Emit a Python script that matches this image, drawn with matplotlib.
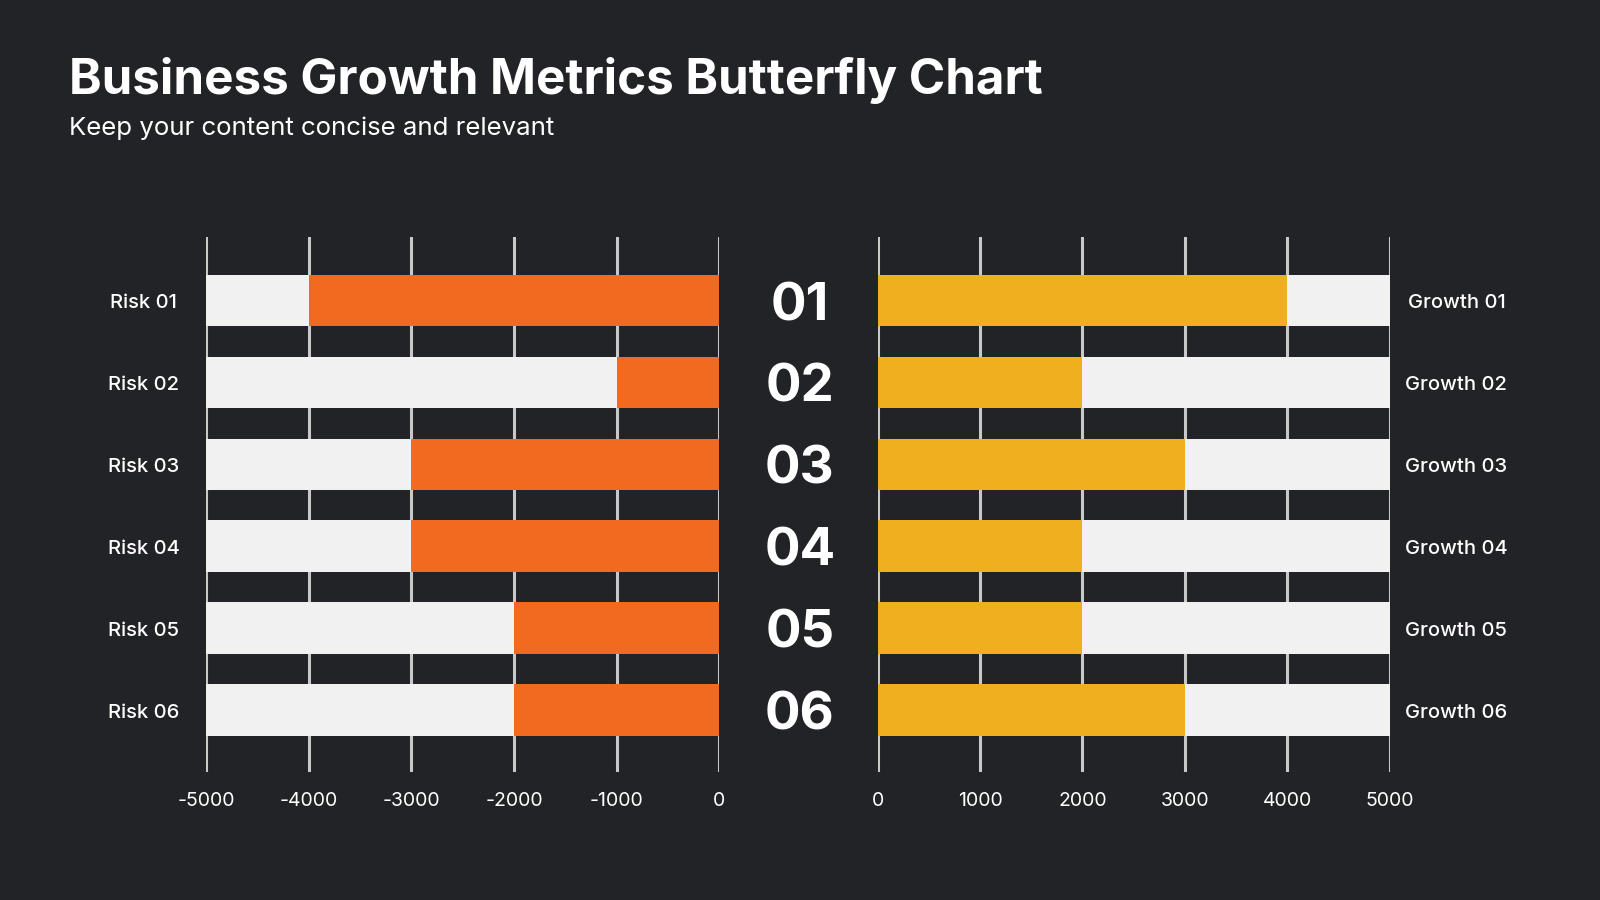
import matplotlib.pyplot as plt
import numpy as np

plt.rcParams['font.family'] = ['Inter', 'DejaVu Sans']

risk_labels = ['Risk 01', 'Risk 02', 'Risk 03', 'Risk 04', 'Risk 05', 'Risk 06']
growth_labels = ['Growth 01', 'Growth 02', 'Growth 03', 'Growth 04', 'Growth 05', 'Growth 06']
row_numbers = ['01', '02', '03', '04', '05', '06']
risk_values = [-4000, -1000, -3000, -3000, -2000, -2000]
growth_values = [4000, 2000, 3000, 2000, 2000, 3000]
axis_max = 5000
left_ticks = [-5000, -4000, -3000, -2000, -1000, 0]
right_ticks = [0, 1000, 2000, 3000, 4000, 5000]

bg = '#222326'
track = '#f1f1f1'
orange = '#f26a1f'
yellow = '#efaf1f'
grid = '#c8c8c8'

fig = plt.figure(figsize=(16, 9), dpi=100, facecolor=bg)

ax_l = fig.add_axes([0.1288, 0.142, 0.3208, 0.595])
ax_r = fig.add_axes([0.5485, 0.142, 0.3201, 0.595])

y = np.arange(len(risk_labels))
h = 0.63


def style(ax, ticks, lim):
    ax.set_facecolor(bg)
    ax.set_xlim(*lim)
    ax.set_ylim(len(y) - 1 + 0.76, -0.78)
    ax.set_xticks(ticks)
    ax.set_xticklabels([str(t) for t in ticks], color='white', fontsize=14)
    ax.tick_params(axis='x', length=0, pad=14)
    ax.set_yticks([])
    for s in ax.spines.values():
        s.set_visible(False)
    for t in ticks:
        ax.axvline(t, color=grid, lw=2.2, zorder=0)


style(ax_l, left_ticks, (-axis_max, 0))
style(ax_r, right_ticks, (0, axis_max))

ax_l.barh(y, [-axis_max] * len(y), height=h, color=track, zorder=2)
ax_l.barh(y, risk_values, height=h, color=orange, zorder=3)
ax_r.barh(y, [axis_max] * len(y), height=h, color=track, zorder=2)
ax_r.barh(y, growth_values, height=h, color=yellow, zorder=3)

for i in y:
    ax_l.annotate(risk_labels[i], xy=(0, i), xycoords=('axes fraction', 'data'),
                  xytext=(-45, -5.5), textcoords='offset points', ha='center', va='baseline',
                  color='white', fontsize=14.5, fontweight='medium')
    ax_r.annotate(growth_labels[i], xy=(1, i), xycoords=('axes fraction', 'data'),
                  xytext=(48, -5.5), textcoords='offset points', ha='center', va='baseline',
                  color='white', fontsize=14.5, fontweight='medium')
    ax_l.annotate(row_numbers[i], xy=(1, i), xycoords=('axes fraction', 'data'),
                  xytext=(58, -14), textcoords='offset points', ha='center', va='baseline',
                  color='white', fontsize=38, fontweight='bold')

fig.text(0.0434, 0.896, 'Business Growth Metrics Butterfly Chart', color='white',
         fontsize=35.5, fontweight='bold', ha='left', va='baseline')
fig.text(0.0434, 0.85, 'Keep your content concise and relevant', color='white',
         fontsize=18.6, ha='left', va='baseline')

fig.savefig('out.png', dpi=100, facecolor=bg)
